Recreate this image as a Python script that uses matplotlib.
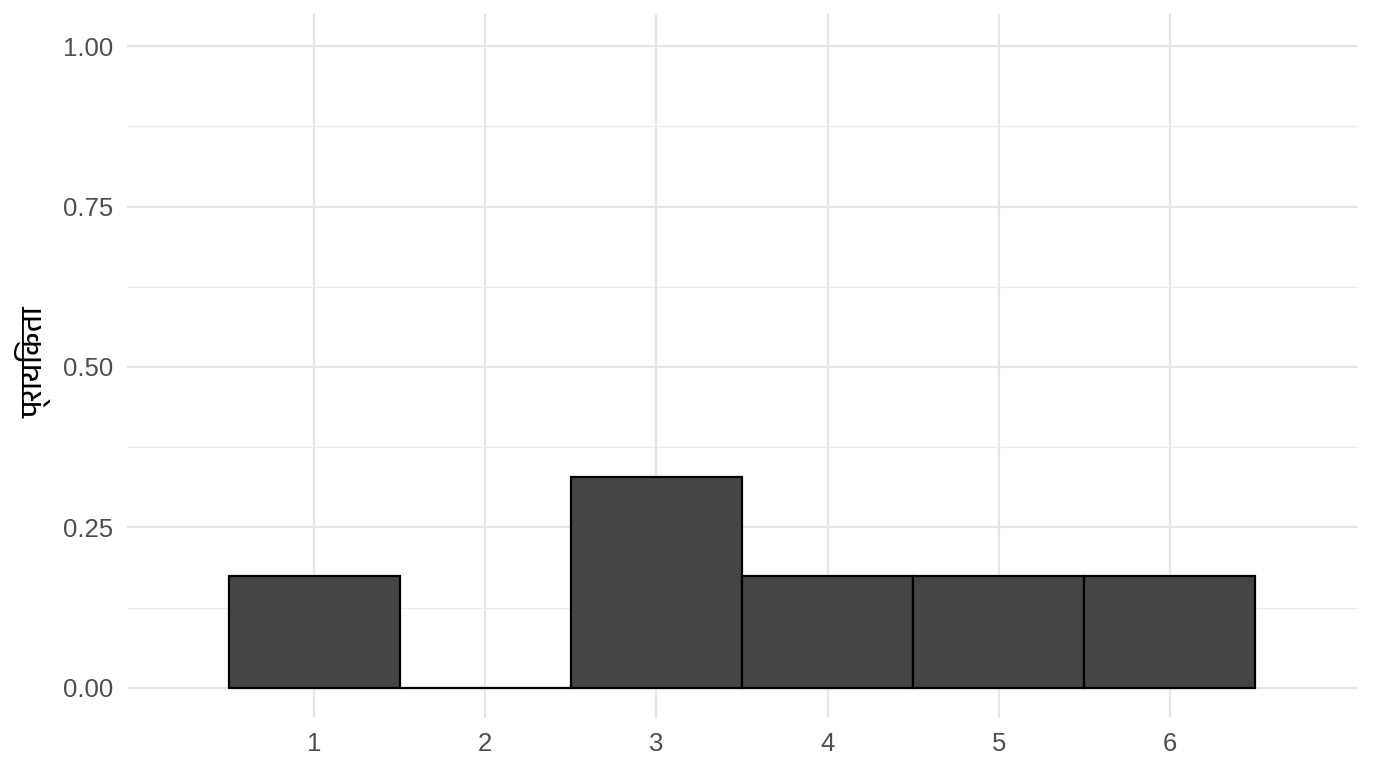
import matplotlib
matplotlib.use("Agg")
import matplotlib.pyplot as plt
from matplotlib import font_manager as fm

categories = [1, 2, 3, 4, 5, 6]
probabilities = [0.174, 0.0, 0.328, 0.174, 0.174, 0.174]
y_ticks = [0.0, 0.25, 0.50, 0.75, 1.00]
y_tick_labels = ["0.00", "0.25", "0.50", "0.75", "1.00"]
y_label = "प्रायिकता"

# find a font with Devanagari glyphs
deva_family = None
for f in fm.fontManager.ttflist:
    if "Devanagari" in f.name or "Lohit" in f.name or "Mukta" in f.name or "Hind" in f.name:
        deva_family = f.name
        break
if deva_family is None:
    try:
        from matplotlib.ft2font import FT2Font
        for f in fm.fontManager.ttflist:
            try:
                ft = FT2Font(f.fname)
                if ft.get_char_index(0x092A):
                    deva_family = f.name
                    break
            except Exception:
                pass
    except Exception:
        pass
label_family = [deva_family, "DejaVu Sans"] if deva_family else ["DejaVu Sans"]

plt.rcParams["font.family"] = ["Liberation Sans", "DejaVu Sans"]

fig = plt.figure(figsize=(13.76, 7.68), dpi=100)
ax = fig.add_axes([127/1376, 1 - 718/768, (1358 - 127)/1376, (718 - 14)/768])

ax.set_xlim(-0.094, 7.1)
ax.set_ylim(-0.047, 1.05)

ax.bar(categories, probabilities, width=1.0, color="#454545",
       edgecolor="black", linewidth=1.6, zorder=3)

ax.set_yticks(y_ticks)
ax.set_yticklabels(y_tick_labels)
ax.set_yticks([0.125, 0.375, 0.625, 0.875], minor=True)
ax.set_xticks(categories)
ax.set_xticklabels([str(c) for c in categories])

ax.grid(which="major", color="#E5E5E5", linewidth=1.6, zorder=0)
ax.grid(which="minor", axis="y", color="#EBEBEB", linewidth=0.9, zorder=0)
ax.set_axisbelow(True)
for s in ax.spines.values():
    s.set_visible(False)
ax.tick_params(which="both", length=0)
ax.tick_params(axis="both", labelsize=18.5, labelcolor="#4D4D4D")
ax.tick_params(axis="y", pad=10)
ax.tick_params(axis="x", pad=10)

fig.text(34/1376, 1 - 362/768, y_label, rotation=90, ha="center", va="center",
         fontsize=21, color="black", family=label_family)

fig.savefig("out.png", dpi=100, facecolor="white")
